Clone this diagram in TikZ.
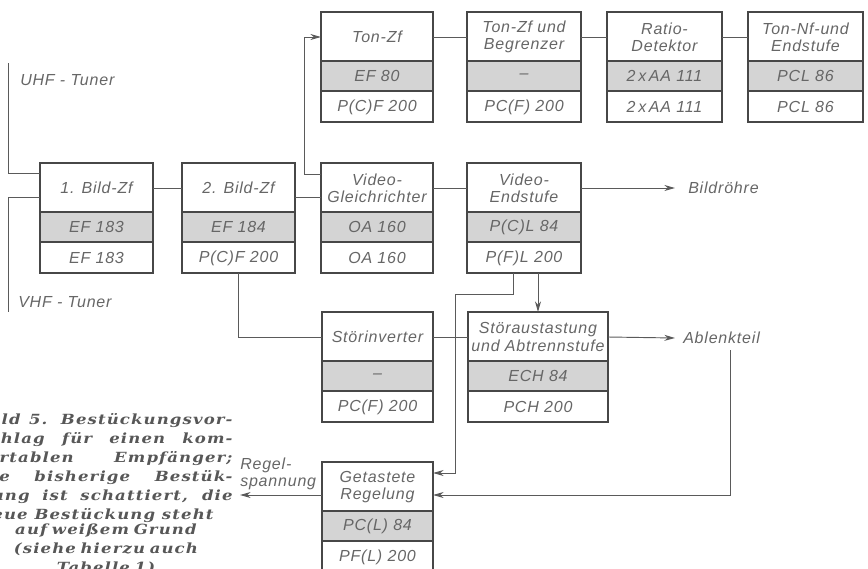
\documentclass[tikz,border=0pt]{standalone}
\usepackage{fontspec}
\usepackage{xcolor}
\usetikzlibrary{arrows.meta,calc}
\newfontfamily\tafel[LetterSpace=5]{Liberation Sans}
\newfontfamily\capfont[FakeStretch=1.18,LetterSpace=8]{DejaVu Serif}
\definecolor{strich}{gray}{0.28}
\definecolor{schattiert}{gray}{0.83}
\definecolor{textgrau}{gray}{0.4}
\tikzset{
  kasten/.style={draw=strich,line width=1.4pt,rectangle,minimum height=82.5pt,
    inner sep=0pt,outer sep=0pt,anchor=north west},
  teil/.style={draw=strich,line width=0.9pt},
  schrift/.style={text=textgrau,align=center,inner sep=0pt,
    font=\tafel\itshape\fontsize{12}{13}\selectfont},
  beschr/.style={schrift,align=left},
  linie/.style={draw=strich!90,line width=0.7pt},
  pfeil/.style={linie,-{Stealth[length=8pt,width=4.5pt]}},
  unterschrift/.style={inner sep=0pt,text=textgrau!85!black,
    font=\capfont\bfseries\itshape\fontsize{10.5}{14.25}\selectfont}
}
% #1 Name, #2/#3 linke obere Ecke, #4 Breite, #5 Funktion, #6 bisher, #7 neu
\newcommand{\Stufe}[7]{%
  \fill[schattiert] (#2,#3+49) rectangle (#2+#4,#3+79);
  \draw[teil] (#2,#3+49) -- ++(#4,0) (#2,#3+79) -- ++(#4,0);
  \node[kasten,minimum width=#4*0.75pt] (#1) at (#2,#3) {};
  \node[schrift] (#1-t) at (#2+#4/2,#3+25) {#5};
  \node[schrift] (#1-a) at (#2+#4/2,#3+64) {#6};
  \node[schrift] (#1-n) at (#2+#4/2,#3+95) {#7};
}

\begin{document}
\begin{tikzpicture}[x=0.75pt,y=-0.75pt]
    \useasboundingbox (0,0) rectangle (868,568);
    \clip (0,0) rectangle (868,568);

    \Stufe{bild1}{40}{163}{113}{1. Bild-Zf}{EF 183}{EF 183}
    \Stufe{bild2}{182}{163}{113}{2. Bild-Zf}{EF 184}{P(C)F 200}
    \Stufe{tonzf}{321}{12}{112}{Ton-Zf}{EF 80}{P(C)F 200}
    \Stufe{begr}{467}{12}{114}{Ton-Zf und\\Begrenzer}{–}{PC(F) 200}
    \Stufe{ratio}{607}{12}{115}{Ratio-\\Detektor}{2\,x\,AA 111}{2\,x\,AA 111}
    \Stufe{tonnf}{748}{12}{115}{Ton-Nf-und\\Endstufe}{PCL 86}{PCL 86}
    \Stufe{vgl}{321}{163}{112}{Video-\\Gleichrichter}{OA 160}{OA 160}
    \Stufe{vend}{467}{163}{114}{Video-\\Endstufe}{P(C)L 84}{P(F)L 200}
    \Stufe{inv}{322}{312}{111}{Störinverter}{–}{PC(F) 200}
    \Stufe{stoer}{468}{312}{140}{Störaustastung\\und Abtrennstufe}{ECH 84}{PCH 200}
    \Stufe{regel}{322}{462}{111}{Getastete\\Regelung}{PC(L) 84}{PF(L) 200}

    \node[beschr,anchor=west] (uhft) at (20,80) {UHF - Tuner};
    \node[beschr,anchor=west] (vhft) at (18,302) {VHF - Tuner};
    \node[beschr,anchor=west] (roehre) at (688,188) {Bildröhre};
    \node[beschr,anchor=west] (ablenk) at (683,338) {Ablenkteil};
    \node[beschr,anchor=west] (regsp) at (240,474) {Regel-\\spannung};
    \coordinate (uhf) at (8,63);
    \coordinate (vhf) at (8,312);

    % Bild-Zf
    \draw[linie] (uhf) |- ($(bild1.north west)+(0,10)$);
    \draw[linie] ($(bild1.north west)+(0,34)$) -| (vhf);
    \draw[linie] (bild1.east |- bild1-t) -- (bild2.west |- bild1-t);
    \draw[linie] ($(bild2.north east)+(0,34)$) -- ($(vgl.north west)+(0,34)$);
    \draw[linie] (vgl.east |- vgl-t) -- (vend.west |- vgl-t);
    \draw[pfeil] (vend.east |- vend-t) -- ($(roehre.west)+(-13,0)$);

    % Ton
    \draw[pfeil] ($(vgl.north west)+(0,11)$) -- ++(-17,0) |- (tonzf.west |- tonzf-t);
    \draw[linie] (tonzf.east |- tonzf-t) -- (begr.west |- tonzf-t);
    \draw[linie] (begr.east |- begr-t) -- (ratio.west |- begr-t);
    \draw[linie] (ratio.east |- ratio-t) -- (tonnf.west |- ratio-t);

    % Stoer und Regelung
    \draw[pfeil] (vend.south -| stoer.north) -- (stoer.north);
    \draw[linie] (bild2.south) |- (inv.west |- inv-t);
    \draw[linie] (inv.east |- inv-t) -- (stoer.west |- inv-t);
    \draw[pfeil] (stoer.east |- stoer-t) -- ($(ablenk.west)+(-8,0)$);
    \draw[pfeil] ($(vend.south west)+(46,0)$) |- (455,294) |- ($(regel.north east)+(0,11)$);
    \draw[pfeil] ($(ablenk.south)+(9,6)$) |- ($(regel.north east)+(0,33)$);
    \draw[pfeil] ($(regel.north west)+(0,33)$) -- ($(regsp.west)+(0,21)$);

    \node[unterschrift,anchor=north west,text width=190pt,align=justify] (bu) at (-21,413)
      {Bild 5. Bestückungsvor-\linebreak schlag für einen kom-\linebreak
       fortablen Empfänger;\linebreak die bisherige Bestük-\linebreak
       kung ist schattiert, die\linebreak neue Bestückung steht};
    \node[unterschrift,anchor=north,text width=190pt,align=center] (bu2)
      at ($(bu.south)+(0,1)$)
      {auf weißem Grund\\(siehe hierzu auch\\Tabelle 1)};
\end{tikzpicture}
\end{document}
